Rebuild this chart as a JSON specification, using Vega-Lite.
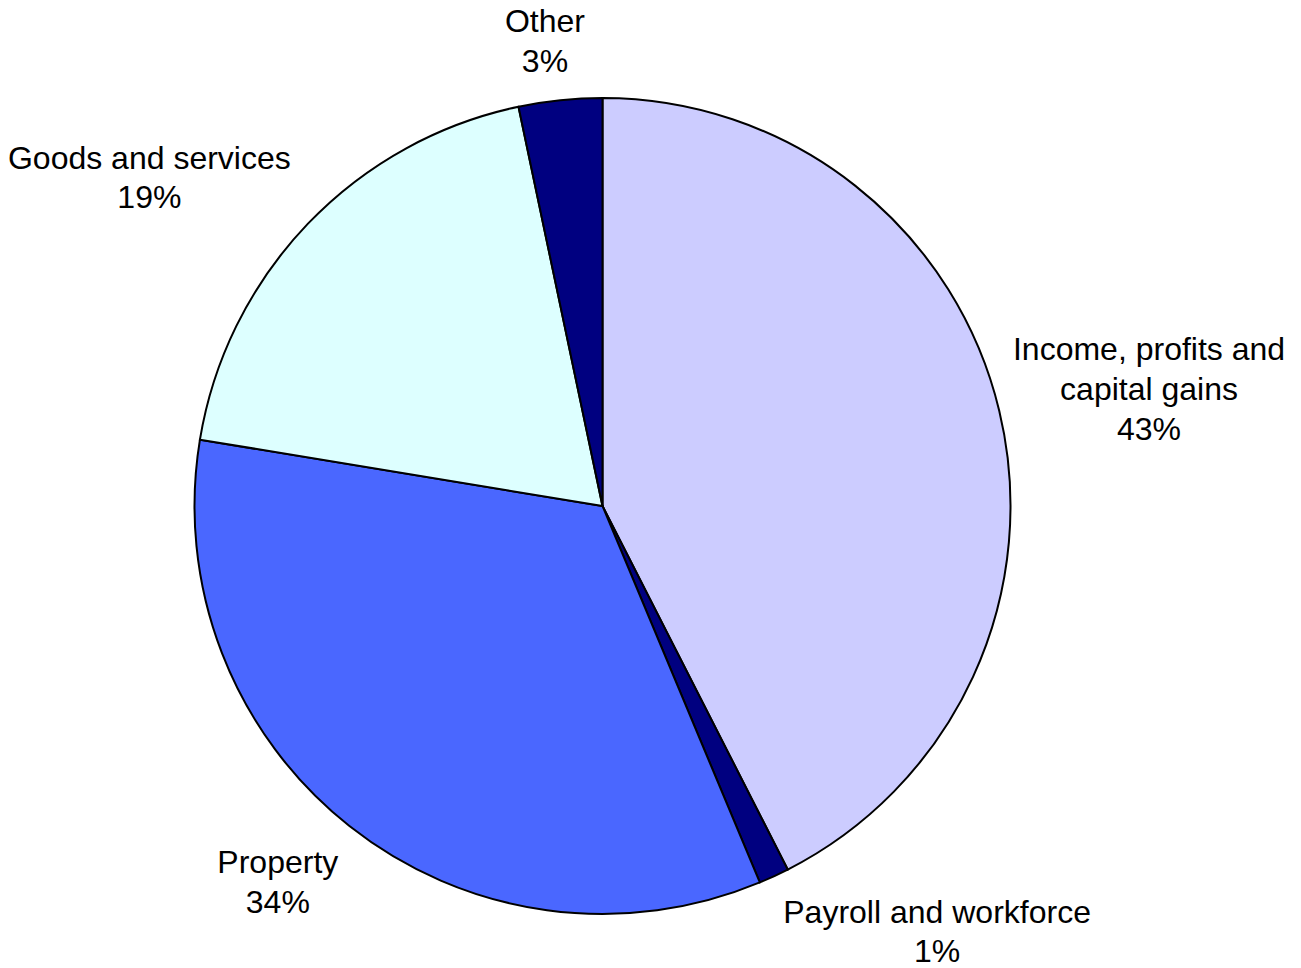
{
  "$schema": "https://vega.github.io/schema/vega-lite/v6.json",
  "width": 1205,
  "height": 924,
  "autosize": {"type": "none"},
  "padding": {"left": 0, "top": 44, "right": 96, "bottom": 0},
  "background": "white",
  "view": {"stroke": null},
  "data": {
    "values": [
      {"i": 1, "category": "Income, profits and capital gains", "share": 42.5, "label": "Income, profits and\ncapital gains\n43%"},
      {"i": 2, "category": "Payroll and workforce", "share": 1.2, "label": "Payroll and workforce\n1%"},
      {"i": 3, "category": "Property", "share": 33.9, "label": "Property\n34%"},
      {"i": 4, "category": "Goods and services", "share": 19.1, "label": "Goods and services\n19%"},
      {"i": 5, "category": "Other", "share": 3.3, "label": "Other\n3%"}
    ]
  },
  "encoding": {
    "theta": {"field": "share", "type": "quantitative", "stack": true},
    "order": {"field": "i", "type": "quantitative"}
  },
  "layer": [
    {
      "mark": {"type": "arc", "outerRadius": 408, "stroke": "black", "strokeWidth": 2},
      "encoding": {
        "color": {
          "field": "category",
          "type": "nominal",
          "legend": null,
          "scale": {
            "domain": ["Income, profits and capital gains", "Payroll and workforce", "Property", "Goods and services", "Other"],
            "range": ["#CCCCFF", "#000080", "#4A67FF", "#DDFFFF", "#000080"]
          }
        }
      }
    },
    {
      "mark": {"type": "text", "radius": 560, "dx": 2, "dy": -25, "font": "Liberation Sans", "fontSize": 32, "lineHeight": 40, "lineBreak": "\n", "align": "center", "baseline": "middle", "color": "black"},
      "encoding": {
        "text": {"condition": {"test": "datum.i === 1", "field": "label"}, "value": ""}
      }
    },
    {
      "mark": {"type": "text", "radius": 468, "dx": 138, "dy": -18, "font": "Liberation Sans", "fontSize": 32, "lineHeight": 39, "lineBreak": "\n", "align": "center", "baseline": "middle", "color": "black"},
      "encoding": {
        "text": {"condition": {"test": "datum.i === 2", "field": "label"}, "value": ""}
      }
    },
    {
      "mark": {"type": "text", "radius": 496, "dx": -17, "dy": -32, "font": "Liberation Sans", "fontSize": 32, "lineHeight": 40, "lineBreak": "\n", "align": "center", "baseline": "middle", "color": "black"},
      "encoding": {
        "text": {"condition": {"test": "datum.i === 3", "field": "label"}, "value": ""}
      }
    },
    {
      "mark": {"type": "text", "radius": 540, "dx": -63, "dy": 26, "font": "Liberation Sans", "fontSize": 32, "lineHeight": 39, "lineBreak": "\n", "align": "center", "baseline": "middle", "color": "black"},
      "encoding": {
        "text": {"condition": {"test": "datum.i === 4", "field": "label"}, "value": ""}
      }
    },
    {
      "mark": {"type": "text", "radius": 469, "dx": -9, "dy": -18, "font": "Liberation Sans", "fontSize": 32, "lineHeight": 40, "lineBreak": "\n", "align": "center", "baseline": "middle", "color": "black"},
      "encoding": {
        "text": {"condition": {"test": "datum.i === 5", "field": "label"}, "value": ""}
      }
    }
  ]
}
